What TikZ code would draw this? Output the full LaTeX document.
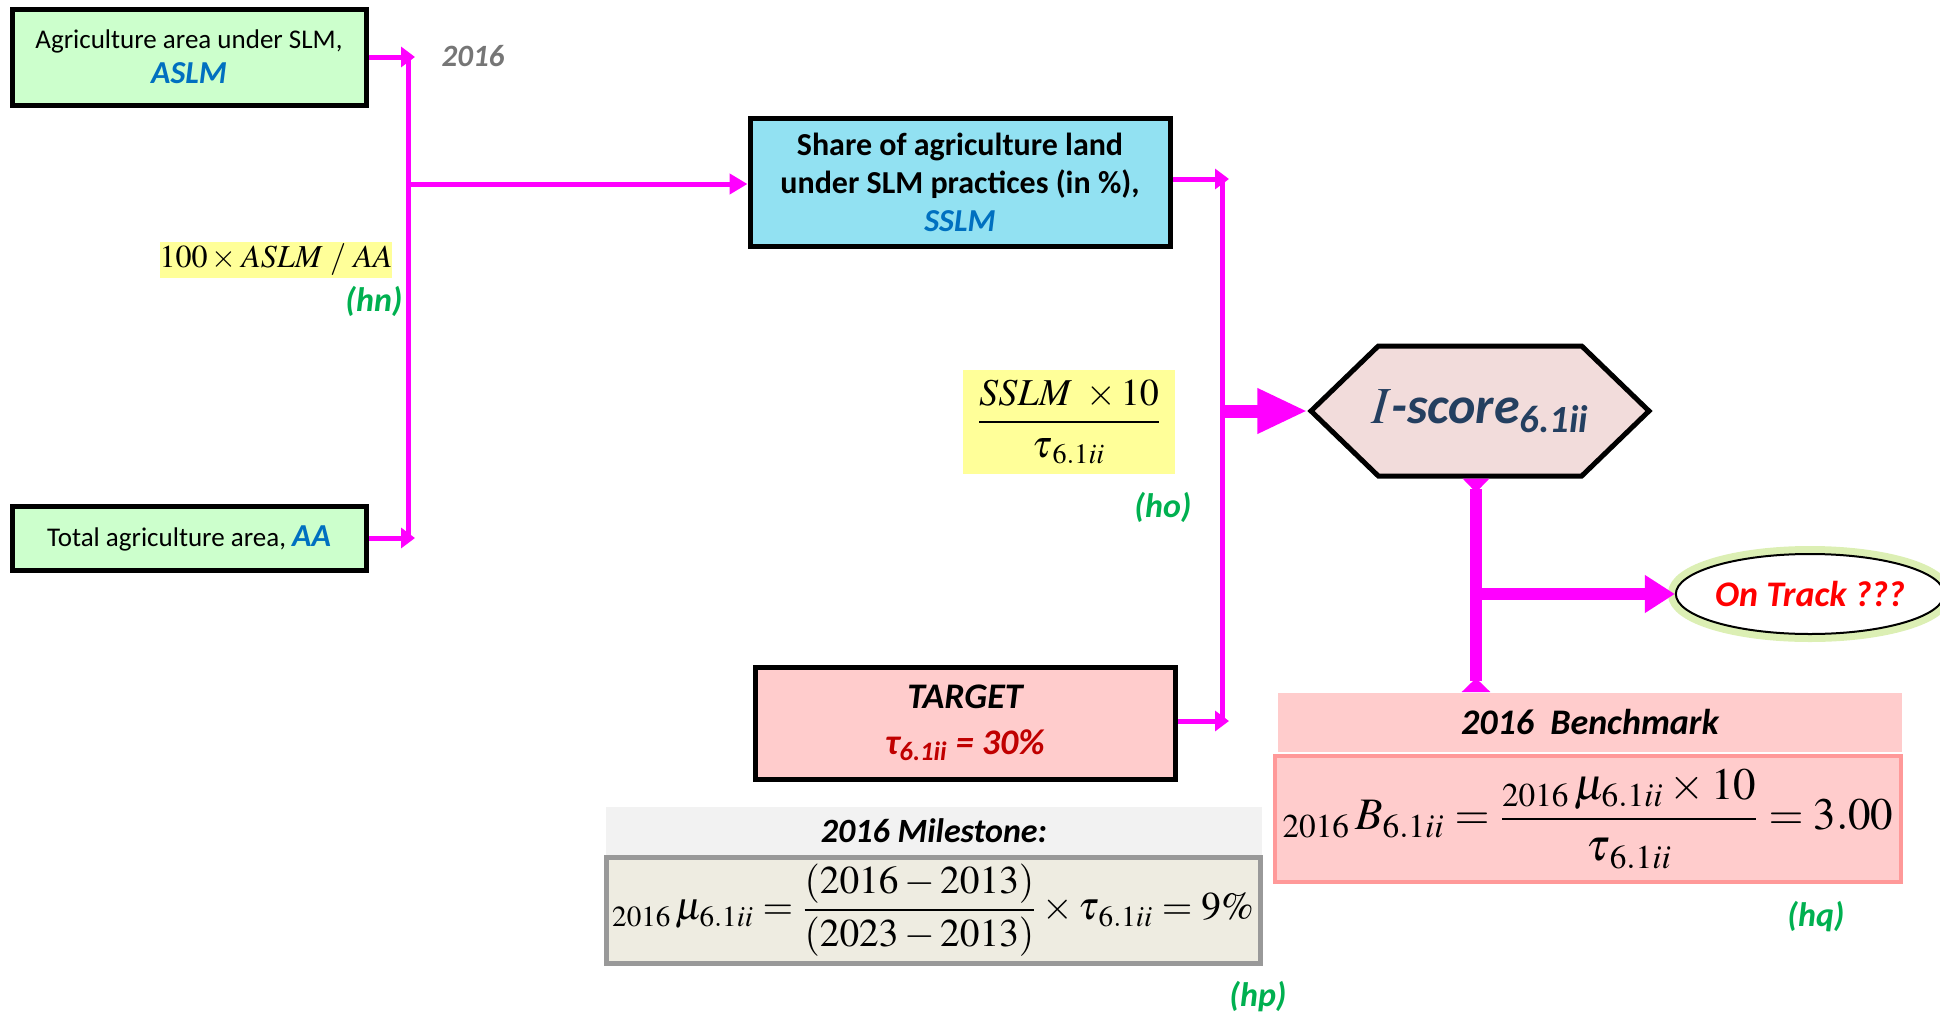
\documentclass[tikz,border=0pt]{standalone}
\usepackage{amsmath}
\usepackage{mathptmx}
\usepackage[no-math]{fontspec}
\setmainfont{Carlito}
\usetikzlibrary{arrows.meta,shapes.geometric,shapes.symbols}
\definecolor{boxgreen}{HTML}{CCFFCC}
\definecolor{varblue}{HTML}{0070C0}
\definecolor{boxcyan}{HTML}{92E1F2}
\definecolor{flowpink}{HTML}{FF00FF}
\definecolor{labyellow}{HTML}{FFFF99}
\definecolor{labgreen}{HTML}{00B050}
\definecolor{yeargray}{HTML}{767676}
\definecolor{targetpink}{HTML}{FFCCCC}
\definecolor{targetred}{HTML}{C00000}
\definecolor{hexpink}{HTML}{F2DCDB}
\definecolor{hexblue}{HTML}{243F60}
\definecolor{benchline}{HTML}{FF9999}
\definecolor{milehead}{HTML}{F2F2F2}
\definecolor{milefill}{HTML}{EEECE1}
\definecolor{mileline}{HTML}{999999}
\definecolor{glowgreen}{HTML}{DCEFB4}
\tikzset{
    databox/.style={draw=black, line width=2.5pt, inner sep=0pt, align=center},
    flowline/.style={draw=flowpink, line width=2.5pt},
    flow/.style={flowline, -{Triangle[length=7pt,width=10pt]}},
    thickflow/.style={draw=flowpink, line width=6pt},
    hlabel/.style={text=labgreen, font=\fontsize{17}{20}\selectfont\bfseries\itshape},
    formula/.style={fill=labyellow, inner sep=0pt},
}
\begin{document}
\begin{tikzpicture}[x=0.5pt,y=-0.5pt]
        \useasboundingbox (0,0) rectangle (1940,1023);
        % boxes
            \node[databox, fill=boxgreen, minimum width=177pt, minimum height=48pt,
                font=\fontsize{13.5}{17.5}\selectfont] (aslm) at (189,57)
                {Agriculture area under SLM,\\ \textcolor{varblue}{\fontsize{16}{17.5}\selectfont\bfseries\itshape ASLM}};
            \node[databox, fill=boxgreen, minimum width=177pt, minimum height=32pt,
                font=\fontsize{13.5}{15}\selectfont] (aa) at (189,538)
                {Total agriculture area, \textcolor{varblue}{\fontsize{16}{15}\selectfont\bfseries\itshape AA}};
            \node[databox, fill=boxcyan, minimum width=210pt, minimum height=64pt,
                font=\fontsize{16}{19}\selectfont\bfseries] (sslm) at (960,182)
                {Share of agriculture land\\ under SLM practices (in \%),\\ \textcolor{varblue}{\itshape SSLM}};
            \node[databox, fill=targetpink, minimum width=210pt, minimum height=56pt,
                font=\fontsize{18}{23}\selectfont\bfseries\itshape] (target) at (965,723)
                {TARGET\\ \textcolor{targetred}{τ\textsubscript{6.1ii} = 30\%}};
            \node[signal, signal to=east and west, signal pointer angle=88, draw=black,
                line width=2.5pt, fill=hexpink, minimum width=169pt, minimum height=65pt,
                inner sep=0pt, text=hexblue, font=\fontsize{26}{30}\selectfont] (iscore) at (1480,411)
                {\makebox[0pt]{$I$\textit{\bfseries -score}\textsubscript{\bfseries\itshape 6.1ii}}};
            \node[ellipse, draw=black, line width=1pt, fill=white,
                preaction={draw=glowgreen, line width=8pt}, minimum width=133pt,
                minimum height=40pt, inner sep=0pt, text=red,
                font=\fontsize{18}{21}\selectfont\bfseries\itshape] (ontrack) at (1810,594) {On Track ???};
        % benchmark and milestone
            \node[fill=targetpink, minimum width=312pt, minimum height=29.5pt, inner sep=0pt,
                font=\fontsize{18}{21}\selectfont\bfseries\itshape] (benchhead) at (1590,722) {2016~~Benchmark};
            \node[draw=benchline, line width=2pt, fill=targetpink, minimum width=313pt,
                minimum height=63pt, inner sep=0pt, font=\fontsize{22.5}{26}\selectfont] (benchbox) at (1588,819)
                {${}_{2016}\,B_{6.1ii} = \dfrac{{}_{2016}\,\mu_{6.1ii}\times 10}{\tau_{\,6.1ii}} = 3.00$};
            \node[fill=milehead, minimum width=328pt, minimum height=24.5pt, inner sep=0pt,
                font=\fontsize{17}{20}\selectfont\bfseries\itshape] (milehead) at (934,831) {2016 Milestone:};
            \node[draw=mileline, line width=2.5pt, fill=milefill, minimum width=327pt,
                minimum height=53pt, inner sep=0pt, font=\fontsize{19.7}{23}\selectfont] (milebox) at (933,910)
                {${}_{2016}\,\mu_{6.1ii} = \dfrac{(2016-2013)}{(2023-2013)}\times\tau_{\,6.1ii} = 9\%$};
        % formulas
            \node[formula, minimum width=115pt, minimum height=18pt,
                font=\fontsize{16}{19}\selectfont] (ratio) at (276,260) {$100\times ASLM\ /\ AA$};
            \node[formula, minimum width=106pt, minimum height=52pt,
                font=\fontsize{19}{22}\selectfont] (score) at (1069,422) {$\dfrac{SSLM\ \times 10}{\tau_{\,6.1ii}}$};
        % junctions
            \coordinate (ltop) at (408,57);
            \coordinate (lmid) at (408,184);
            \coordinate (lbot) at (408,538);
            \coordinate (rtop) at (1222,179);
            \coordinate (rmid) at (1222,411);
            \coordinate (rbot) at (1222,721);
            \coordinate (bmid) at (1476,594);
        % connectors
            \draw[flowline] (ltop) -- (lbot);
            \draw[flow] (aslm.east) -- ([xshift=3.5pt]ltop);
            \draw[flow] (aa.east) -- ([xshift=3.5pt]lbot);
            \draw[flow, -{Triangle[length=9pt,width=10pt]}] (lmid) -- (lmid -| sslm.west);
            \draw[flowline] (rtop) -- (rbot);
            \draw[flow] (sslm.east |- rtop) -- ([xshift=3.5pt]rtop);
            \draw[flow] (target.east |- rbot) -- ([xshift=3.5pt]rbot);
            \draw[flowpink, line width=6.5pt, -{Triangle[length=25pt,width=21pt]}] (rmid) -- (iscore.west);
            \draw[thickflow, {Triangle[reversed,length=7pt,width=13pt]}-{Triangle[reversed,length=7pt,width=14pt]}]
                (iscore.south -| bmid) -- (benchhead.north -| bmid);
            \draw[thickflow, -{Triangle[length=15pt,width=18pt]}] (bmid) -- (ontrack.west);
        % labels
            \node[text=yeargray, font=\fontsize{15.5}{18}\selectfont\bfseries\itshape] (year) at (473,56) {2016};
            \foreach \n/\x/\y in {hn/374/301, ho/1163/507, hp/1258/997, hq/1816/917}{
                \node[hlabel] (\n) at (\x,\y) {(\n)};
            }
\end{tikzpicture}
\end{document}
